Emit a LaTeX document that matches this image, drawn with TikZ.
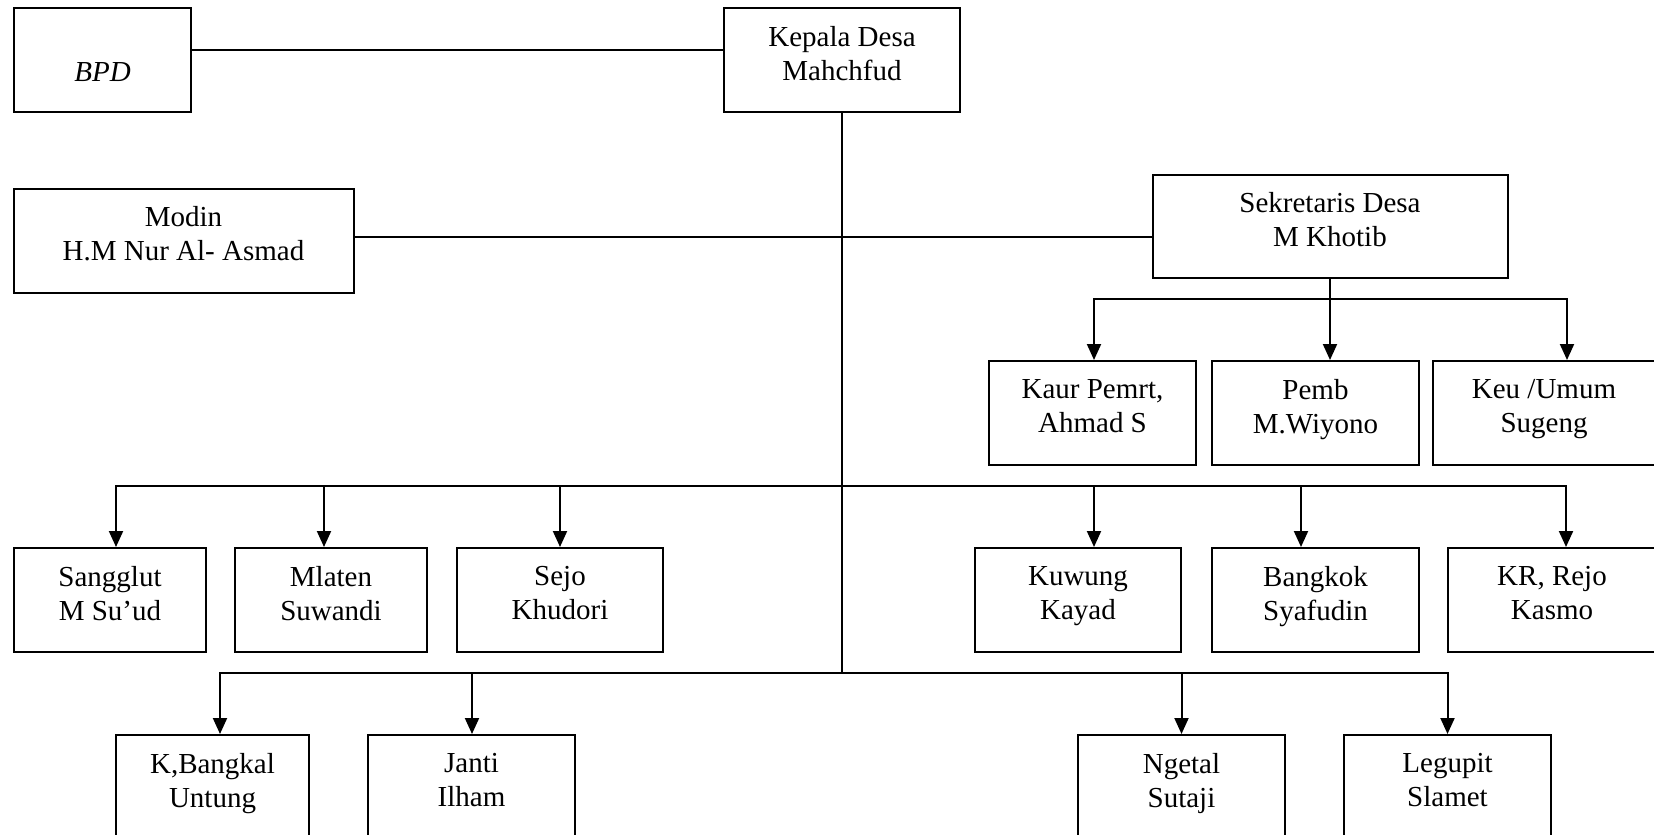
\documentclass[tikz,border=0pt]{standalone}
\usepackage{fontspec}
\setmainfont{Liberation Serif}
\usetikzlibrary{arrows.meta}
\newcommand\mystrut{\rule[-14pt]{0pt}{36pt}}
\begin{document}
\begin{tikzpicture}[x=1pt,y=-1pt,
  box/.style={draw,line width=2pt,inner sep=0pt,align=center,font=\fontsize{29}{34}\selectfont,
    execute at begin node=\mystrut, execute at end node=\mystrut},
  ln/.style={line width=2pt},
  arr/.style={line width=2pt,-{Triangle[length=16pt,width=14pt]}}]
\useasboundingbox (0,0) rectangle (1654,835);
\clip (0,0) rectangle (1654,835);

\node[box,minimum width=177pt,minimum height=104pt] (bpd) at (102.5,60) {\raisebox{-17pt}[0pt][0pt]{\textit{BPD}}};
\node[box,minimum width=236pt,minimum height=104pt] (kd) at (842,60) {Kepala Desa\\Mahchfud};
\node[box,minimum width=340pt,minimum height=104pt] (modin) at (183.5,240.5) {Modin\\H.M Nur Al- Asmad};
\node[box,minimum width=355pt,minimum height=103pt] (sek) at (1330,226) {Sekretaris Desa\\M Khotib};

\node[box,minimum width=207pt,minimum height=104pt] (kaur) at (1092.5,413) {Kaur Pemrt,\\Ahmad S};
\node[box,minimum width=207pt,minimum height=104pt] (pemb) at (1315.5,413) {Pemb\\M.Wiyono};
\node[box,minimum width=222pt,minimum height=104pt] (keu) at (1544,413) {Keu /Umum\\Sugeng};

\node[box,minimum width=192pt,minimum height=104pt] (sangglut) at (110,600) {Sangglut\\M Su’ud};
\node[box,minimum width=192pt,minimum height=104pt] (mlaten) at (331,600) {Mlaten\\Suwandi};
\node[box,minimum width=206pt,minimum height=104pt] (sejo) at (560,600) {Sejo\\Khudori};
\node[box,minimum width=206pt,minimum height=104pt] (kuwung) at (1078,600) {Kuwung\\Kayad};
\node[box,minimum width=207pt,minimum height=104pt] (bangkok) at (1315.5,600) {Bangkok\\Syafudin};
\node[box,minimum width=208pt,minimum height=104pt] (krrejo) at (1552,600) {KR, Rejo\\Kasmo};

\node[box,minimum width=193pt,minimum height=104pt] (kbangkal) at (212.5,787) {K,Bangkal\\Untung};
\node[box,minimum width=207pt,minimum height=104pt] (janti) at (471.5,787) {Janti\\Ilham};
\node[box,minimum width=207pt,minimum height=104pt] (ngetal) at (1181.5,787) {Ngetal\\Sutaji};
\node[box,minimum width=207pt,minimum height=104pt] (legupit) at (1447.5,787) {Legupit\\Slamet};

\coordinate (m) at (842,237);
\coordinate (r1) at (842,486);
\coordinate (r2) at (842,673);
\coordinate (s1) at (1330,299);

\draw[ln] ([yshift=10pt]bpd.east) -- ([yshift=10pt]kd.west);
\draw[ln] (kd.south) -- (r2);
\draw[ln] (modin.east |- m) -- (sek.west |- m);
\draw[ln] (sek.south) -- (s1);
\draw[arr] (s1) -| ([xshift=1.5pt]kaur.north);
\draw[arr] (s1) -| ([xshift=14.5pt]pemb.north);
\draw[arr] (s1) -| ([xshift=23pt]keu.north);

\draw[arr] (r1) -| ([xshift=6pt]sangglut.north);
\draw[arr] (r1) -| ([xshift=-7pt]mlaten.north);
\draw[arr] (r1) -| (sejo.north);
\draw[arr] (r1) -| ([xshift=16pt]kuwung.north);
\draw[arr] (r1) -| ([xshift=-14.5pt]bangkok.north);
\draw[arr] (r1) -| ([xshift=14pt]krrejo.north);

\draw[arr] (r2) -| ([xshift=7.5pt]kbangkal.north);
\draw[arr] (r2) -| ([xshift=0.5pt]janti.north);
\draw[arr] (r2) -| (ngetal.north);
\draw[arr] (r2) -| (legupit.north);
\end{tikzpicture}
\end{document}
